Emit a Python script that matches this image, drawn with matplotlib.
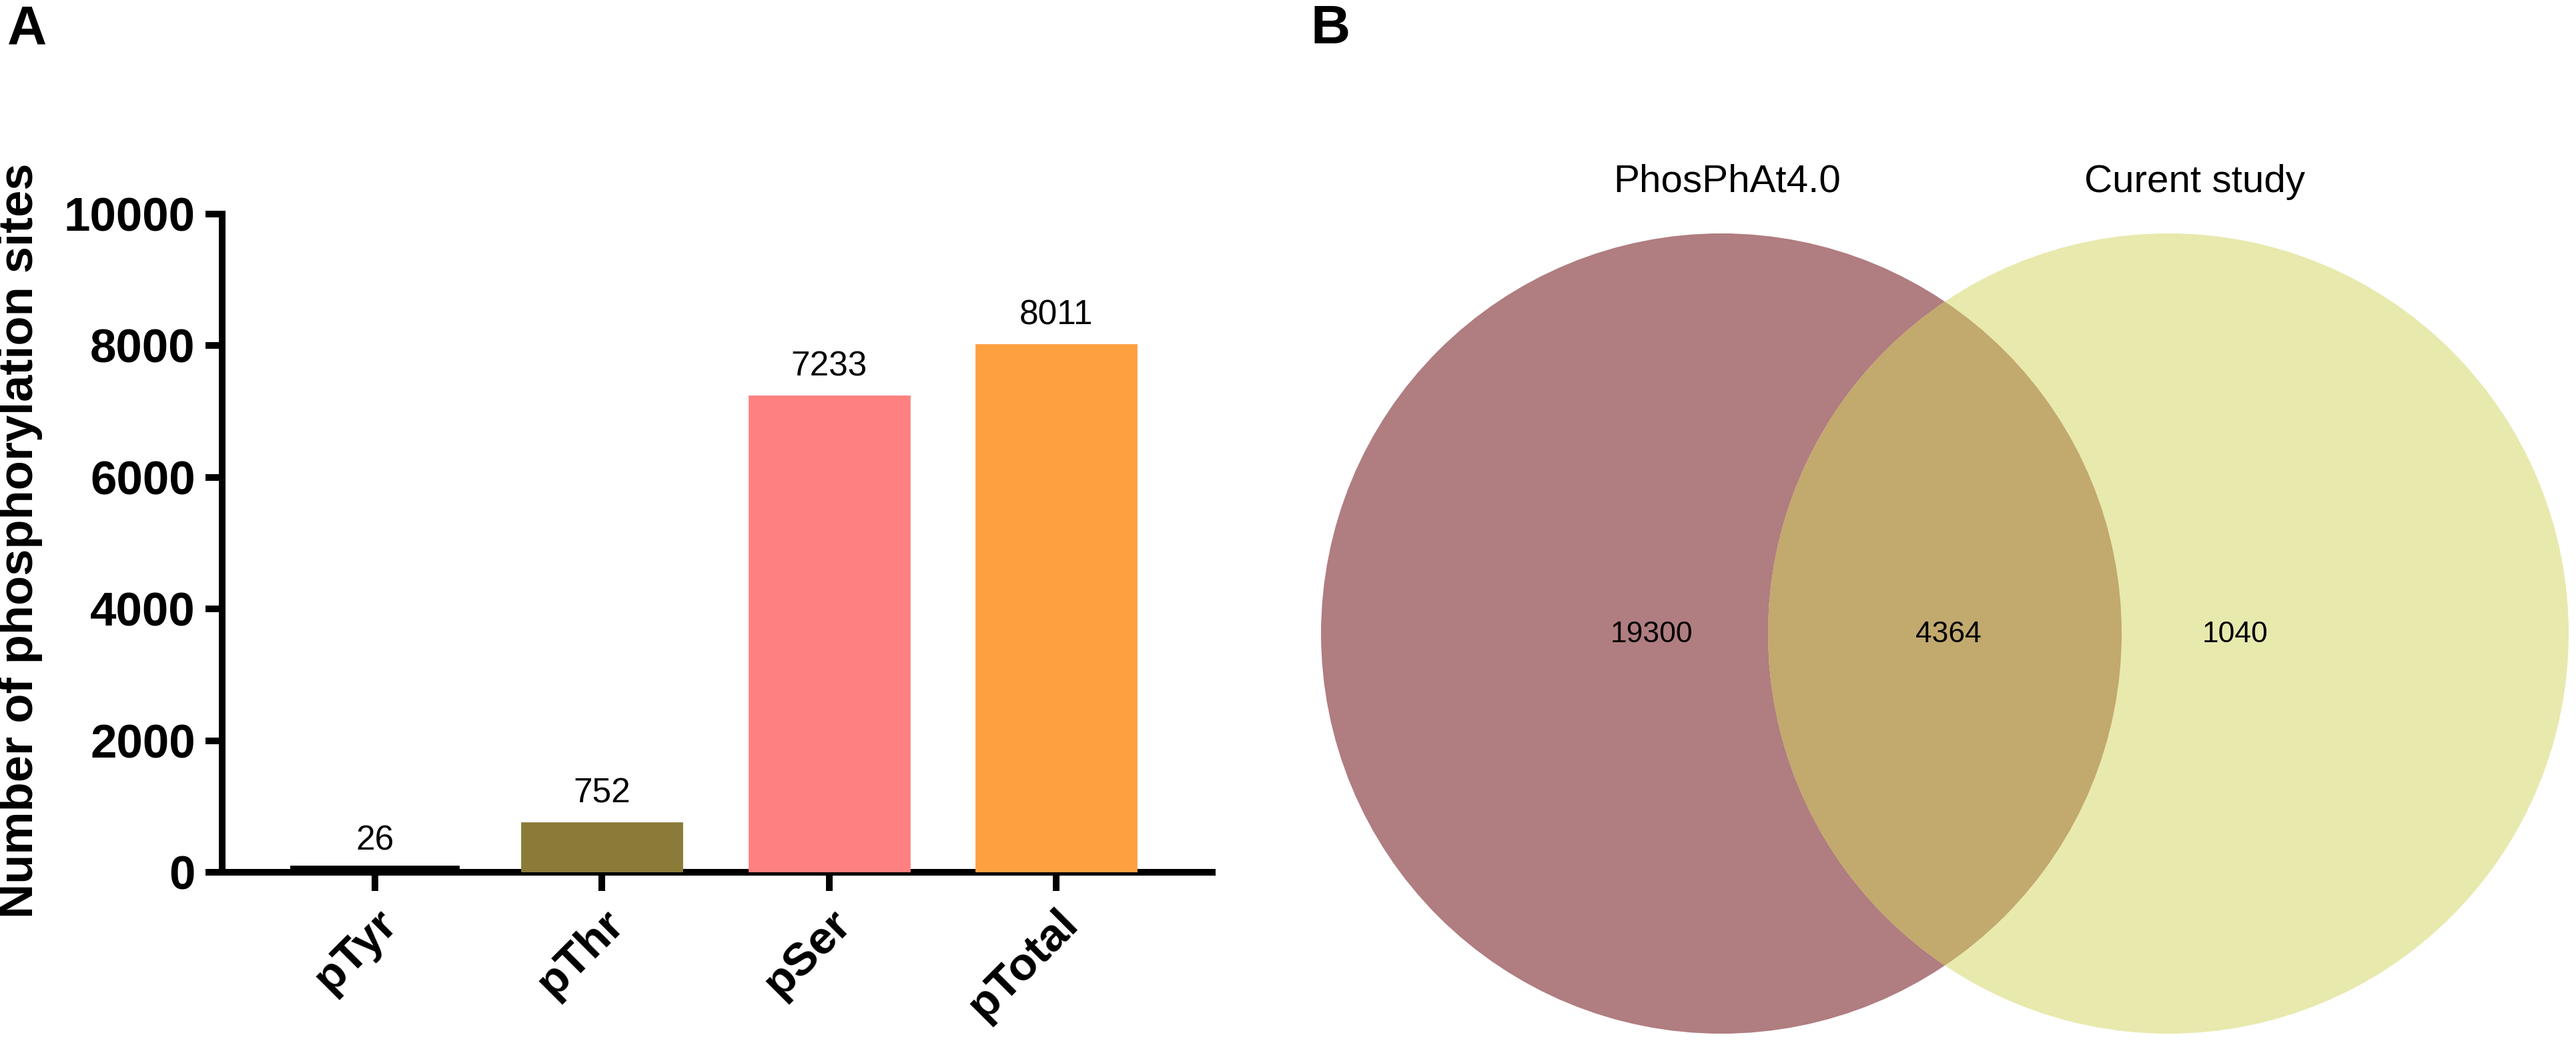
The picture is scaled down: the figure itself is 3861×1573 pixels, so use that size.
import numpy as np
import matplotlib
matplotlib.use('Agg')
import matplotlib.pyplot as plt
from matplotlib.patches import Circle

plt.rcParams['font.family'] = ['Liberation Sans', 'DejaVu Sans']

# panel A data
categories = ['pTyr', 'pThr', 'pSer', 'pTotal']
site_counts = [26, 752, 7233, 8011]
bar_colors = ['#000000', '#8B7B38', '#FF8080', '#FFA040']
y_ticks = [0, 2000, 4000, 6000, 8000, 10000]

# panel B data
set_names = ['PhosPhAt4.0', 'Curent study']
only_left = 19300
shared = 4364
only_right = 1040
venn_colors = ['#B07D80', '#E8E9AD', '#C2A96E']

W, H = 3862, 1573
DPI = 100
fig = plt.figure(figsize=(W / DPI, H / DPI), dpi=DPI)

# ---- A: bar chart ----
ax = fig.add_axes([333 / W, 1 - 1308 / H, (1817 - 333) / W, (1308 - 321) / H])
x = np.arange(len(categories))
bars = ax.bar(x, site_counts, width=0.705, color=bar_colors,
              edgecolor=bar_colors, linewidth=2, zorder=3)
bars[0].set_linewidth(10)  # tiny pTyr bar still shows as a thick strip
ax.set_xlim(-0.673, 3.688)
ax.set_ylim(0, 10000)
ax.set_yticks(y_ticks)
ax.set_xticks(x)
ax.set_xticklabels(categories, rotation=45, ha='right', va='top',
                   rotation_mode='anchor', fontweight='bold', fontsize=50)
ax.tick_params(axis='y', length=18, width=7.2, labelsize=51, pad=11)
ax.tick_params(axis='x', length=20, width=7.2, pad=12)
for lbl in ax.get_yticklabels():
    lbl.set_fontweight('bold')
for s in ['top', 'right']:
    ax.spines[s].set_visible(False)
for s in ['left', 'bottom']:
    ax.spines[s].set_linewidth(7.2)
ax.bar_label(bars, labels=[str(v) for v in site_counts], padding=14, fontsize=37)

fig.text(30 / W, 1 - 811 / H, 'Number of phosphorylation sites', rotation=90,
         ha='center', va='center', fontsize=52, fontweight='bold')
fig.text(11 / W, 1 - 6 / H, 'A', ha='left', va='top', fontsize=59, fontweight='bold')
fig.text(1965 / W, 1 - 6 / H, 'B', ha='left', va='top', fontsize=59, fontweight='bold')

# ---- B: venn ----
vax = fig.add_axes([1900 / W, 0, (W - 1900) / W, 1])
vax.set_xlim(1900, W)
vax.set_ylim(H, 0)
vax.axis('off')

r = 600
cy = 950
left_c = Circle((2580, cy), r, fc=venn_colors[0], ec='none')
right_c = Circle((3250, cy), r, fc=venn_colors[1], ec='none')
vax.add_patch(left_c)
vax.add_patch(right_c)
mid = Circle((3250, cy), r, fc=venn_colors[2], ec='none')
vax.add_patch(mid)
mid.set_clip_path(left_c)

vax.text(2589, 288, set_names[0], ha='center', va='baseline', fontsize=42)
vax.text(3290, 288, set_names[1], ha='center', va='baseline', fontsize=42)
for xp, val in zip([2475, 2920, 3350], [only_left, shared, only_right]):
    vax.text(xp, 963, str(val), ha='center', va='baseline', fontsize=32)

fig.savefig('out.png', dpi=DPI)
